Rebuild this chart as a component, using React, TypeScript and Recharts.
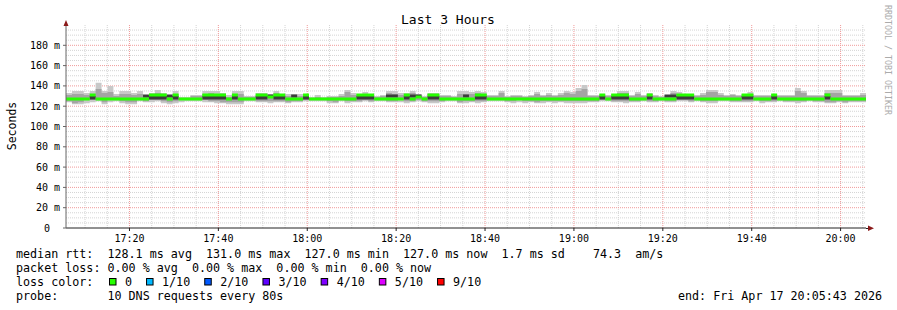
import { ComposedChart, Area, XAxis, YAxis, CartesianGrid } from 'recharts';

const MONO = '"DejaVu Sans Mono", monospace';
const _ = null;

// 17:05:43 expressed in minutes of the day, one probe round every 80 s
const START = 17 * 60 + 5 + 43 / 60;
const STEP = 80 / 60;
const SPAN = 180;

// median rtt (ms) per probe round
const median = [
  127, 127, 127, 127, 131, 127, 127, 127, 127, 127,
  127, 127, 127, 127, 131, 131, 131, 127, 131, 127,
  127, 127, 127, 131, 131, 131, 131, 127, 131, 127,
  127, 127, 131, 131, 129, 131, 131, 127, 127, 127,
  131, 127, 127, 127, 127, 127, 127, 127, 127, 131,
  131, 131, 127, 127, 127, 127, 127, 131, 127, 129,
  127, 131, 131, 127, 127, 127, 127, 127, 127, 131,
  131, 127, 127, 127, 127, 127, 127, 127, 127, 127,
  127, 127, 127, 127, 127, 127, 127, 127, 127, 127,
  131, 127, 131, 131, 131, 127, 127, 127, 131, 127,
  127, 127, 127, 131, 131, 131, 127, 127, 127, 127,
  127, 127, 127, 127, 131, 131, 127, 127, 127, 131,
  127, 127, 127, 127, 127, 127, 127, 127, 131, 127,
  127, 127, 127, 127, 127,
];

// outer smoke (fastest / slowest ping)
const smokeLo = [
  124, 122, 122, 123, 124, 125, 122, 124, 125, 123,
  122, 122, 125, 124, 124, 125, 123, 122, 123, 124,
  125, 125, 125, 124, 124, 123, 123, 122, 122, 122,
  125, 125, 124, 124, 123, 124, 124, 123, 124, 124,
  125, 125, 125, 125, 123, 123, 125, 123, 124, 124,
  125, 124, 125, 125, 124, 124, 124, 123, 124, 125,
  124, 123, 123, 124, 125, 125, 123, 123, 124, 123,
  124, 125, 125, 125, 124, 123, 124, 123, 124, 123,
  123, 124, 123, 124, 123, 123, 123, 123, 124, 124,
  125, 125, 124, 124, 123, 124, 124, 125, 124, 124,
  125, 124, 124, 125, 125, 124, 125, 124, 123, 123,
  125, 125, 124, 124, 124, 124, 125, 123, 124, 124,
  125, 124, 124, 123, 124, 125, 124, 124, 123, 123,
  124, 123, 124, 124, 124,
];
const smokeHi = [
  133, 135, 135, 133, 135, 143, 135, 140, 132, 135,
  135, 133, 135, 131, 133, 136, 133, 130, 135, 129,
  129, 131, 131, 135, 135, 135, 133, 131, 135, 135,
  130, 130, 133, 133, 132, 135, 132, 132, 132, 132,
  132, 129, 131, 129, 130, 130, 132, 136, 133, 132,
  134, 132, 130, 131, 135, 135, 133, 133, 135, 132,
  130, 133, 133, 131, 131, 130, 135, 135, 134, 135,
  134, 131, 131, 135, 130, 131, 131, 130, 131, 134,
  131, 133, 131, 133, 135, 134, 138, 141, 131, 131,
  132, 131, 132, 135, 135, 131, 134, 131, 133, 131,
  130, 131, 135, 134, 132, 132, 131, 133, 136, 136,
  133, 131, 132, 131, 132, 134, 131, 131, 131, 132,
  131, 131, 131, 138, 135, 131, 131, 131, 136, 136,
  136, 131, 131, 131, 133,
];

// middle smoke
const midLo = [
  125, 123, 124, 126, 126, 126, 124, 126, 126, 125,
  124, 124, 126, 125, 126, 126, 125, 124, 125, 126,
  126, 126, 126, 126, 125, 125, 124, 124, 124, 124,
  126, 126, 125, 125, 125, 125, 125, 124, 125, 125,
  126, 126, 126, 126, 125, 124, 126, 125, 125, 125,
  126, 125, 126, 126, 125, 125, 126, 125, 125, 126,
  125, 125, 125, 125, 126, 126, 124, 125, 125, 125,
  125, 126, 126, 126, 125, 125, 126, 125, 125, 124,
  125, 125, 125, 125, 125, 125, 125, 125, 125, 125,
  126, 126, 125, 125, 125, 125, 125, 126, 125, 125,
  126, 125, 125, 126, 126, 125, 126, 125, 125, 125,
  126, 126, 125, 125, 125, 125, 126, 125, 125, 125,
  126, 125, 125, 125, 125, 126, 125, 125, 124, 124,
  125, 124, 125, 125, 125,
];
const midHi = [
  131, 132, 132, 131, 132, 137, 133, 134, 130, 132,
  132, 131, 132, 130, 131, 133, 131, 129, 132, 128,
  128, 130, 130, 132, 133, 132, 131, 129, 132, 132,
  129, 129, 131, 131, 131, 133, 131, 130, 131, 130,
  130, 128, 129, 128, 129, 129, 130, 134, 131, 131,
  132, 130, 129, 130, 133, 132, 131, 132, 133, 130,
  129, 132, 132, 130, 130, 129, 132, 132, 132, 133,
  132, 130, 130, 133, 129, 130, 130, 129, 130, 132,
  130, 131, 130, 131, 133, 132, 135, 137, 130, 130,
  131, 130, 131, 133, 133, 130, 132, 130, 132, 130,
  129, 130, 133, 132, 131, 131, 130, 131, 134, 134,
  131, 130, 131, 130, 131, 132, 130, 130, 130, 131,
  130, 130, 130, 135, 133, 130, 130, 130, 133, 133,
  133, 130, 130, 130, 131,
];

// dense core of the smoke, where it shows next to the median
const darkLo = [
  _, _, _, _, 126.5, _, _, _, _, _,
  _, _, _, 128.5, 126.5, 126.5, 126.5, 128.5, 126.5, _,
  _, _, _, 126.5, 126.5, 126.5, 126.5, _, 126.5, _,
  _, _, 126.5, 126.5, 128.5, 126.5, 126.5, _, 128.5, _,
  126.5, _, _, _, _, _, _, _, _, 126.5,
  126.5, 126.5, _, _, 128.5, 128.5, _, 126.5, 128.5, 128.5,
  _, 126.5, 126.5, _, _, _, _, 128.5, _, 126.5,
  126.5, _, _, _, _, _, _, _, _, _,
  _, _, _, _, _, _, _, _, _, _,
  126.5, _, 126.5, 126.5, 126.5, _, _, _, 126.5, _,
  _, 128.5, 128.5, 126.5, 126.5, 126.5, _, _, _, _,
  _, _, _, _, 126.5, 126.5, _, _, _, 126.5,
  _, _, _, _, _, _, _, _, 126.5, _,
  _, _, _, _, _,
];
const darkHi = [
  _, _, _, _, 130, _, _, _, _, _,
  _, _, _, 131.5, 130, 130, 130, 131.5, 130, _,
  _, _, _, 130, 130, 130, 130, _, 130, _,
  _, _, 130, 130, 131.5, 130, 130, _, 131.5, _,
  130, _, _, _, _, _, _, _, _, 130,
  130, 130, _, _, 131.5, 131.5, _, 130, 131.5, 131.5,
  _, 130, 130, _, _, _, _, 131.5, _, 130,
  130, _, _, _, _, _, _, _, _, _,
  _, _, _, _, _, _, _, _, _, _,
  130, _, 130, 130, 130, _, _, _, 130, _,
  _, 131.5, 131.5, 130, 130, 130, _, _, _, _,
  _, _, _, _, 130, 130, _, _, _, 130,
  _, _, _, _, _, _, _, _, 130, _,
  _, _, _, _, _,
];

const timeTicks = [1040, 1060, 1080, 1100, 1120, 1140, 1160, 1180, 1200];
const timeLabels = ['17:20', '17:40', '18:00', '18:20', '18:40', '19:00', '19:20', '19:40', '20:00'];
const minorTimes = [1030, 1035, 1045, 1050, 1055, 1065, 1070, 1075, 1085, 1090, 1095, 1105, 1110, 1115,
  1125, 1130, 1135, 1145, 1150, 1155, 1165, 1170, 1175, 1185, 1190, 1195, 1205];
const rttTicks = [0, 20, 40, 60, 80, 100, 120, 140, 160, 180];
const majorRtt = [20, 40, 60, 80, 100, 120, 140, 160, 180];
const minorRtt = [5, 10, 15, 25, 30, 35, 45, 50, 55, 65, 70, 75, 85, 90, 95, 105, 110, 115, 125, 130, 135,
  145, 150, 155, 165, 170, 175, 185, 190, 195];

const legendLines = [
  'median rtt:  128.1 ms avg  131.0 ms max  127.0 ms min  127.0 ms now  1.7 ms sd    74.3  am/s',
  'packet loss: 0.00 % avg  0.00 % max  0.00 % min  0.00 % now',
  'loss color:',
  'probe:       10 DNS requests every 80s',
];
const lossColors = [
  { label: '0', color: '#26ff00' },
  { label: '1/10', color: '#00b8ff' },
  { label: '2/10', color: '#0059ff' },
  { label: '3/10', color: '#5e00ff' },
  { label: '4/10', color: '#7e00ff' },
  { label: '5/10', color: '#dd00ff' },
  { label: '9/10', color: '#ff0000' },
];
const endStamp = 'end: Fri Apr 17 20:05:43 2026';

// median is drawn as a thin band, like smokeping does (no vertical joins)
const HALF = 1.5;

const rows: any[] = median.map((m, i) => ({
  t: START + i * STEP,
  med: [m - HALF, m + HALF],
  light: [smokeLo[i], smokeHi[i]],
  mid: [midLo[i], midHi[i]],
  dark: darkLo[i] == null ? [m, m] : [darkLo[i], darkHi[i]],
}));
// close the last step at the end of the window
rows.push({ ...rows[rows.length - 1], t: START + median.length * STEP });

const TimeTick = (props: any) => {
  const { x, payload } = props;
  const idx = timeTicks.indexOf(payload.value);
  return (
    <text x={x} y={242} textAnchor="middle" fontFamily={MONO} fontSize={10} fill="#000">
      {idx >= 0 ? timeLabels[idx] : ''}
    </text>
  );
};

const RttTick = (props: any) => {
  const { x, y, payload } = props;
  const v = payload.value;
  return (
    <text x={v === 0 ? x - 10 : x} y={y + 3.5} textAnchor="end" fontFamily={MONO} fontSize={10} fill="#000">
      {v === 0 ? '0' : `${v} m`}
    </text>
  );
};

const CW = 7.05; // advance of one legend character

export default function App() {
  let bx = 109;
  const boxes = lossColors.map((c) => {
    const x = bx;
    bx += 16 + c.label.length * CW + 14;
    return { ...c, x };
  });

  return (
    <div style={{ position: 'absolute', left: 0, top: 0, width: 897, height: 310, background: '#fff' }}>
      <ComposedChart width={897} height={310} data={rows} margin={{ top: 25, right: 31, bottom: 62, left: 0 }}>
        <CartesianGrid horizontalValues={minorRtt} verticalValues={minorTimes} stroke="#d4d4d4" strokeDasharray="1 1" fill="none" />
        <CartesianGrid horizontalValues={majorRtt} verticalValues={timeTicks} stroke="#f09a9a" strokeDasharray="1 1" fill="none" />
        <XAxis
          dataKey="t"
          type="number"
          domain={[START, START + SPAN]}
          ticks={timeTicks}
          interval={0}
          allowDataOverflow
          height={20}
          tickSize={3}
          tick={<TimeTick />}
          axisLine={{ stroke: '#222' }}
          tickLine={{ stroke: '#222' }}
        />
        <YAxis
          type="number"
          domain={[0, 200]}
          ticks={rttTicks}
          interval={0}
          allowDataOverflow
          width={66}
          tickSize={3}
          tickMargin={3}
          tick={<RttTick />}
          axisLine={{ stroke: '#666' }}
          tickLine={{ stroke: '#666' }}
        />
        <Area dataKey="light" type="stepAfter" fill="#c8c8c8" fillOpacity={1} stroke="none" isAnimationActive={false} />
        <Area dataKey="mid" type="stepAfter" fill="#a4a4a4" fillOpacity={1} stroke="none" isAnimationActive={false} />
        <Area dataKey="dark" type="stepAfter" fill="#3c3c3c" fillOpacity={1} stroke="none" isAnimationActive={false} />
        <Area dataKey="med" type="stepAfter" fill="#26ff00" fillOpacity={1} stroke="none" isAnimationActive={false} />
      </ComposedChart>

      <svg width={897} height={310} style={{ position: 'absolute', left: 0, top: 0, pointerEvents: 'none' }}>
        <text x={448} y={24} textAnchor="middle" fontFamily={MONO} fontSize={13} fill="#000">Last 3 Hours</text>
        <text transform="translate(15.5,126) rotate(-90)" textAnchor="middle" fontFamily={MONO} fontSize={11.5} fill="#000">Seconds</text>
        <text transform="translate(885,5) rotate(90)" fontFamily={MONO} fontSize={8.3} fill="#ababab">RRDTOOL / TOBI OETIKER</text>

        <line x1={866} y1={228.5} x2={870} y2={228.5} stroke="#222" />
        <polygon points="63.5,26 68.5,26 66,20" fill="#8b1a1a" />
        <polygon points="868,225.5 868,231 874,228.3" fill="#8b1a1a" />

        {legendLines.map((s, i) => (
          <text key={i} x={16} y={258 + i * 14} fontFamily={MONO} fontSize={11.7} fill="#000" xmlSpace="preserve" style={{ whiteSpace: 'pre' }}>
            {s}
          </text>
        ))}
        {boxes.map((b) => (
          <g key={b.label}>
            <rect x={b.x + 0.5} y={278.5} width={6.5} height={6.5} fill={b.color} stroke="#000" strokeWidth={1} />
            <text x={b.x + 16} y={286} fontFamily={MONO} fontSize={11.7} fill="#000">{b.label}</text>
          </g>
        ))}
        <text x={678} y={300} fontFamily={MONO} fontSize={11.7} fill="#000">{endStamp}</text>
      </svg>
    </div>
  );
}
